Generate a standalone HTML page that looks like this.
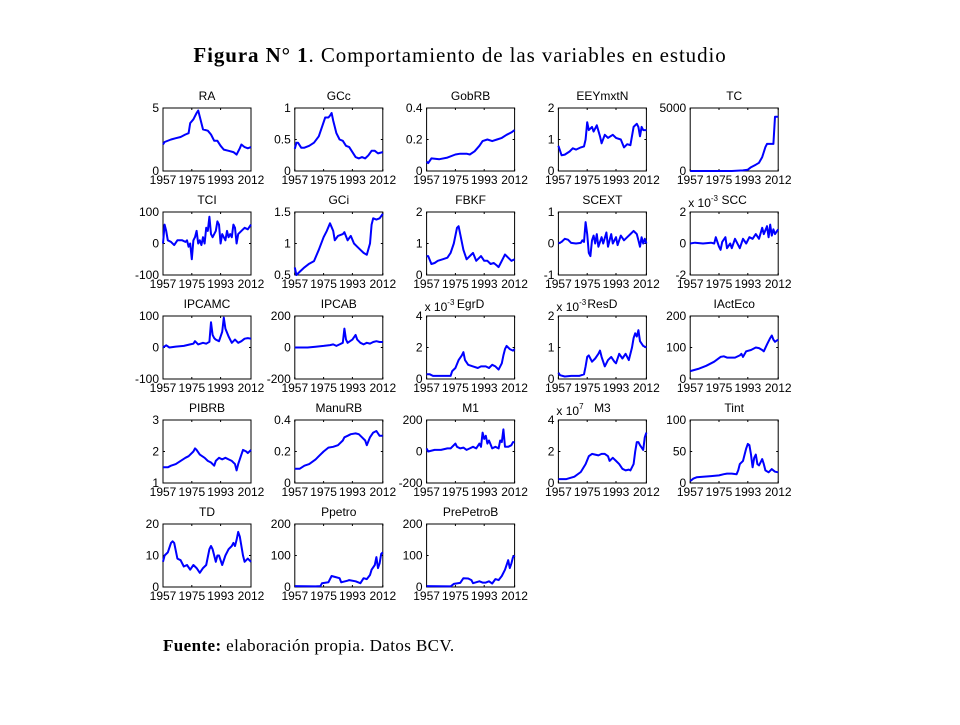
<!DOCTYPE html>
<html><head><meta charset="utf-8"><style>
body{margin:0;background:#fff;width:960px;height:720px;overflow:hidden}
svg text{font-family:"Liberation Sans",Arial,sans-serif}
</style></head><body>
<svg id="fig" width="960" height="720" viewBox="0 0 960 720" xmlns="http://www.w3.org/2000/svg">
<text x="460" y="62" text-anchor="middle" style="font-family:'Liberation Serif',serif;font-size:21px;letter-spacing:0.9px"><tspan font-weight="bold">Figura N° 1</tspan>. Comportamiento de las variables en estudio</text>
<text x="163" y="651" style="font-family:'Liberation Serif',serif;font-size:17px;letter-spacing:0.4px"><tspan font-weight="bold">Fuente:</tspan> elaboración propia. Datos BCV.</text>
<g id="panels"></g>
</svg>
<script>
const xTicks = [1957, 1975, 1993, 2012];
const names = ["RA","GCc","GobRB","EEYmxtN","TC","TCI","GCi","FBKF","SCEXT","SCC","IPCAMC","IPCAB","EgrD","ResD","IActEco","PIBRB","ManuRB","M1","M3","Tint","TD","Ppetro","PrePetroB"];
const yTicks = [[0,5],[0,0.5,1],[0,0.2,0.4],[0,1,2],[0,5000],[-100,0,100],[0.5,1,1.5],[0,1,2],[-1,0,1],[-2,0,2],[-100,0,100],[-200,0,200],[0,2,4],[0,1,2],[0,100,200],[1,2,3],[0,0.2,0.4],[-200,0,200],[0,2,4],[0,50,100],[0,10,20],[0,100,200],[0,100,200]];
const exps = {SCC:"-3",EgrD:"-3",ResD:"-3",M3:"7"};
const RA=[[1957,2.1],[1958,2.3],[1962,2.5],[1965,2.6],[1968,2.7],[1971,2.9],[1973,3.0],[1974,3.8],[1976,4.1],[1978,4.6],[1979,4.8],[1980,4.3],[1982,3.3],[1985,3.2],[1987,2.9],[1989,2.4],[1991,2.4],[1993,2.0],[1995,1.7],[1998,1.6],[2001,1.5],[2003,1.3],[2005,1.8],[2006,2.1],[2008,1.9],[2010,1.8],[2012,1.9]];
const GCc=[[1957,0.35],[1958,0.45],[1959,0.45],[1961,0.37],[1963,0.37],[1966,0.4],[1969,0.45],[1972,0.55],[1974,0.7],[1976,0.85],[1978,0.85],[1979,0.88],[1980,0.92],[1981,0.8],[1983,0.6],[1985,0.5],[1987,0.48],[1989,0.4],[1991,0.38],[1993,0.3],[1995,0.22],[1997,0.2],[1999,0.22],[2001,0.2],[2003,0.25],[2005,0.32],[2007,0.32],[2009,0.28],[2012,0.3]];
const GobRB=[[1957,0.06],[1958,0.05],[1960,0.08],[1965,0.075],[1970,0.085],[1975,0.105],[1978,0.11],[1982,0.11],[1984,0.105],[1987,0.125],[1990,0.16],[1992,0.19],[1995,0.2],[1998,0.19],[2001,0.2],[2004,0.21],[2007,0.23],[2010,0.245],[2012,0.26]];
const EEYmxtN=[[1957,0.8],[1959,0.5],[1961,0.52],[1964,0.62],[1966,0.72],[1968,0.68],[1971,0.75],[1973,0.78],[1974,1.0],[1975,1.55],[1976,1.3],[1978,1.4],[1979,1.25],[1981,1.45],[1983,1.1],[1984,0.88],[1986,1.15],[1988,1.05],[1991,1.15],[1993,1.05],[1996,1.0],[1998,0.75],[2000,0.85],[2002,0.82],[2004,1.4],[2006,1.5],[2007,1.4],[2008,1.1],[2009,1.4],[2010,1.3],[2012,1.3]];
const TC=[[1957,0],[1983,0],[1990,50],[1993,100],[1995,300],[1998,500],[2000,650],[2002,1100],[2004,1900],[2005,2150],[2009,2150],[2010,4300],[2012,4300]];
const TCI=[[1957,0],[1958,60],[1959,40],[1960,10],[1962,5],[1964,-5],[1966,10],[1969,10],[1971,5],[1972,10],[1973,-10],[1974,0],[1975,-50],[1976,10],[1977,20],[1978,40],[1979,0],[1980,10],[1981,-5],[1982,20],[1983,0],[1984,50],[1985,40],[1986,85],[1987,30],[1988,20],[1990,40],[1991,70],[1992,60],[1993,0],[1994,30],[1996,10],[1997,40],[1998,20],[1999,30],[2000,20],[2001,60],[2002,50],[2003,0],[2004,30],[2006,40],[2008,50],[2010,45],[2012,60]];
const GCi=[[1957,0.62],[1958,0.5],[1960,0.55],[1963,0.62],[1966,0.68],[1969,0.72],[1972,0.9],[1975,1.1],[1977,1.2],[1979,1.32],[1981,1.2],[1982,1.05],[1984,1.12],[1987,1.15],[1988,1.18],[1990,1.05],[1992,1.12],[1994,1.0],[1996,0.95],[1998,0.9],[2000,0.85],[2002,0.82],[2004,1.0],[2005,1.3],[2006,1.4],[2008,1.38],[2010,1.4],[2012,1.47]];
const FBKF=[[1957,0.6],[1958,0.6],[1960,0.35],[1962,0.38],[1964,0.45],[1967,0.5],[1970,0.55],[1972,0.7],[1974,1.0],[1976,1.5],[1977,1.55],[1978,1.3],[1980,0.8],[1982,0.5],[1985,0.65],[1986,0.7],[1988,0.45],[1990,0.55],[1991,0.6],[1993,0.45],[1995,0.45],[1997,0.35],[1999,0.38],[2001,0.3],[2002,0.25],[2003,0.35],[2005,0.55],[2006,0.65],[2008,0.55],[2010,0.45],[2012,0.5]];
const SCEXT=[[1957,0],[1959,0.05],[1961,0.15],[1963,0.12],[1965,0.02],[1968,0],[1971,0.02],[1972,0.1],[1973,0.05],[1974,0.68],[1975,0.3],[1976,-0.3],[1977,-0.4],[1978,0.1],[1979,0.25],[1980,0],[1981,0.3],[1982,-0.1],[1984,0.2],[1985,0],[1987,0.35],[1988,-0.1],[1989,0.1],[1990,0.3],[1991,0],[1993,0.2],[1994,-0.05],[1996,0.25],[1998,0.1],[2000,0.2],[2002,0.3],[2004,0.4],[2006,0.3],[2007,0.1],[2008,-0.1],[2009,0.2],[2010,0],[2011,0.15],[2012,0]];
const SCC=[[1957,0],[1960,0.05],[1965,0],[1970,0.05],[1972,0],[1973,0.4],[1975,-0.2],[1976,-0.4],[1977,0.1],[1979,0.4],[1980,-0.3],[1982,0],[1983,-0.3],[1985,0.3],[1987,-0.1],[1988,-0.3],[1990,0.3],[1992,0],[1994,0.4],[1996,0.3],[1998,0.6],[2000,0.3],[2002,1.0],[2003,0.6],[2005,1.1],[2006,0.4],[2007,1.2],[2008,0.5],[2009,0.9],[2010,0.6],[2012,0.9]];
const IPCAMC=[[1957,0],[1959,7],[1961,0],[1965,3],[1970,5],[1974,10],[1976,12],[1977,20],[1979,10],[1982,15],[1984,12],[1986,18],[1987,80],[1988,40],[1989,30],[1990,25],[1992,20],[1994,50],[1995,95],[1996,60],[1998,35],[2000,15],[2002,25],[2004,15],[2006,20],[2008,28],[2010,30],[2012,28]];
const IPCAB=[[1957,0],[1965,0],[1970,5],[1975,10],[1979,15],[1981,20],[1983,10],[1985,20],[1987,30],[1988,120],[1989,50],[1990,30],[1993,50],[1995,80],[1996,50],[1998,30],[2000,20],[2002,30],[2004,25],[2006,35],[2008,40],[2010,35],[2012,35]];
const EgrD=[[1957,0.3],[1959,0.3],[1961,0.2],[1964,0.2],[1970,0.2],[1972,0.2],[1973,0.5],[1975,0.7],[1977,1.2],[1979,1.5],[1980,1.7],[1981,1.2],[1983,0.9],[1986,0.8],[1989,0.7],[1991,0.8],[1994,0.8],[1996,0.7],[1998,0.9],[2000,0.8],[2002,0.6],[2004,1.0],[2005,1.5],[2006,1.9],[2007,2.1],[2009,1.9],[2011,1.8],[2012,1.9]];
const ResD=[[1957,0.2],[1958,0.12],[1961,0.08],[1965,0.1],[1970,0.1],[1973,0.15],[1974,0.4],[1975,0.7],[1976,0.75],[1978,0.55],[1980,0.65],[1982,0.8],[1983,0.9],[1984,0.7],[1986,0.4],[1988,0.6],[1990,0.7],[1992,0.55],[1993,0.5],[1995,0.8],[1997,0.65],[1999,0.8],[2001,0.6],[2003,1.0],[2004,1.3],[2005,1.45],[2006,1.35],[2007,1.55],[2008,1.2],[2010,1.05],[2012,1.0]];
const IActEco=[[1957,25],[1962,32],[1967,42],[1972,55],[1976,70],[1978,72],[1980,68],[1985,68],[1988,75],[1989,80],[1990,70],[1992,88],[1995,92],[1998,100],[2000,98],[2002,92],[2003,88],[2005,110],[2007,130],[2008,138],[2009,125],[2010,118],[2012,125]];
const PIBRB=[[1957,1.5],[1960,1.5],[1962,1.55],[1965,1.6],[1968,1.7],[1971,1.8],[1973,1.85],[1976,2.0],[1977,2.1],[1978,2.05],[1980,1.9],[1983,1.8],[1985,1.7],[1987,1.65],[1989,1.55],[1990,1.7],[1992,1.8],[1994,1.75],[1996,1.8],[1998,1.75],[2000,1.7],[2002,1.6],[2003,1.4],[2004,1.6],[2006,1.9],[2007,2.05],[2009,2.0],[2010,1.95],[2012,2.05]];
const ManuRB=[[1957,0.09],[1960,0.09],[1963,0.11],[1966,0.12],[1970,0.15],[1972,0.17],[1975,0.2],[1978,0.225],[1981,0.23],[1984,0.24],[1987,0.27],[1988,0.29],[1990,0.3],[1992,0.31],[1995,0.315],[1997,0.31],[1999,0.29],[2001,0.27],[2002,0.24],[2004,0.29],[2006,0.32],[2008,0.33],[2010,0.3],[2012,0.3]];
const M1=[[1957,20],[1958,0],[1962,10],[1966,10],[1970,20],[1972,20],[1975,50],[1976,30],[1978,20],[1980,25],[1982,10],[1984,20],[1986,30],[1988,20],[1990,50],[1991,30],[1992,120],[1993,80],[1994,100],[1995,50],[1996,70],[1998,20],[2000,30],[2002,20],[2003,70],[2004,60],[2005,140],[2006,30],[2008,30],[2010,40],[2011,60],[2012,60]];
const M3=[[1957,0.25],[1962,0.25],[1967,0.4],[1971,0.7],[1974,1.2],[1976,1.7],[1978,1.85],[1980,1.8],[1982,1.75],[1984,1.85],[1986,1.85],[1988,1.7],[1989,1.4],[1991,1.6],[1993,1.4],[1995,1.2],[1997,0.9],[1999,0.8],[2001,0.85],[2002,0.8],[2004,1.2],[2005,2.0],[2006,2.6],[2007,2.6],[2008,2.4],[2010,2.1],[2011,2.9],[2012,3.2]];
const Tint=[[1957,3],[1959,7],[1961,9],[1965,10],[1970,11],[1975,12],[1978,14],[1980,15],[1983,15],[1986,14],[1987,20],[1988,30],[1990,35],[1991,45],[1992,55],[1993,62],[1994,60],[1995,45],[1996,25],[1997,40],[1998,45],[1999,30],[2000,28],[2002,38],[2003,30],[2004,20],[2006,17],[2008,22],[2010,18],[2012,17]];
const TD=[[1957,8],[1958,10],[1960,11],[1962,14],[1963,14.5],[1964,14],[1966,9],[1968,8.5],[1970,6.5],[1972,7],[1974,5.5],[1976,7],[1978,6],[1980,4.5],[1982,6],[1984,7],[1986,12],[1987,13],[1988,12],[1990,8],[1991,10],[1992,10],[1994,7],[1996,10],[1998,12],[2000,13],[2001,14],[2002,13],[2003,15],[2004,17.5],[2005,16],[2007,10],[2008,8],[2010,9],[2012,8]];
const Ppetro=[[1957,3],[1970,2],[1973,3],[1974,12],[1978,15],[1980,35],[1982,32],[1985,28],[1986,15],[1990,20],[1991,22],[1995,18],[1998,12],[2000,28],[2002,25],[2004,38],[2005,55],[2007,70],[2008,95],[2009,60],[2010,75],[2011,105],[2012,110]];
const PrePetroB=[[1957,3],[1972,2],[1974,10],[1978,13],[1980,28],[1983,27],[1985,22],[1986,12],[1990,18],[1992,14],[1994,14],[1996,18],[1998,11],[2000,25],[2002,22],[2004,35],[2006,55],[2008,85],[2009,60],[2010,75],[2011,95],[2012,100]];
const series=[RA,GCc,GobRB,EEYmxtN,TC,TCI,GCi,FBKF,SCEXT,SCC,IPCAMC,IPCAB,EgrD,ResD,IActEco,PIBRB,ManuRB,M1,M3,Tint,TD,Ppetro,PrePetroB];

const NS="http://www.w3.org/2000/svg";
const root=document.getElementById('panels');
function mk(tag,attrs,parent,txt){const e=document.createElementNS(NS,tag);for(const k in attrs)e.setAttribute(k,attrs[k]);if(txt!==undefined)e.textContent=txt;parent.appendChild(e);return e;}
const W=88,H=63;
names.forEach((nm,i)=>{
  const col=i%5,row=Math.floor(i/5);
  const L=163+col*131.8,T=108+row*104;
  const tk=yTicks[i];
  const ymin=tk[0],ymax=tk[tk.length-1];
  const sx=v=>L+(v-1957)/55*W;
  const sy=v=>T+H-(v-ymin)/(ymax-ymin)*H;
  const g=mk('g',{},root);
  
  
  const t=mk('text',{x:L+W/2,y:T-8,'text-anchor':'middle','font-size':'12'},g,nm);
  
  
  if(exps[nm]){
    const ex=mk('text',{x:L-2,y:T-5,'font-size':'12'},g);
    
    
    mk('tspan',{},ex,'x 10');
    mk('tspan',{'font-size':'8',dy:'-6'},ex,exps[nm]);
  }
  const box=mk('rect',{x:L,y:T,width:W,height:H,fill:'none',stroke:'#000','stroke-width':'1'},g);
  
  
  xTicks.forEach(v=>{
    mk('line',{x1:sx(v),x2:sx(v),y1:T+H,y2:T+H-2,stroke:'#000'},g);
    mk('line',{x1:sx(v),x2:sx(v),y1:T,y2:T+2,stroke:'#000'},g);
    const xt=mk('text',{x:sx(v),y:T+H+13,'text-anchor':'middle','font-size':'12'},g,String(v));
    
    
  });
  tk.forEach(v=>{
    mk('line',{x1:L,x2:L+2,y1:sy(v),y2:sy(v),stroke:'#000'},g);
    mk('line',{x1:L+W,x2:L+W-2,y1:sy(v),y2:sy(v),stroke:'#000'},g);
    const yt=mk('text',{x:L-4,y:sy(v)+4,'text-anchor':'end','font-size':'12'},g,String(v));
    
    
  });
  const d=series[i].map((p,k)=>(k?'L':'M')+sx(p[0]).toFixed(1)+','+sy(p[1]).toFixed(1)).join('');
  const ln=mk('path',{d:d,fill:'none',stroke:'#0000ff','stroke-width':'2','stroke-linejoin':'round'},g);
  
  
});
</script>
</body></html>
